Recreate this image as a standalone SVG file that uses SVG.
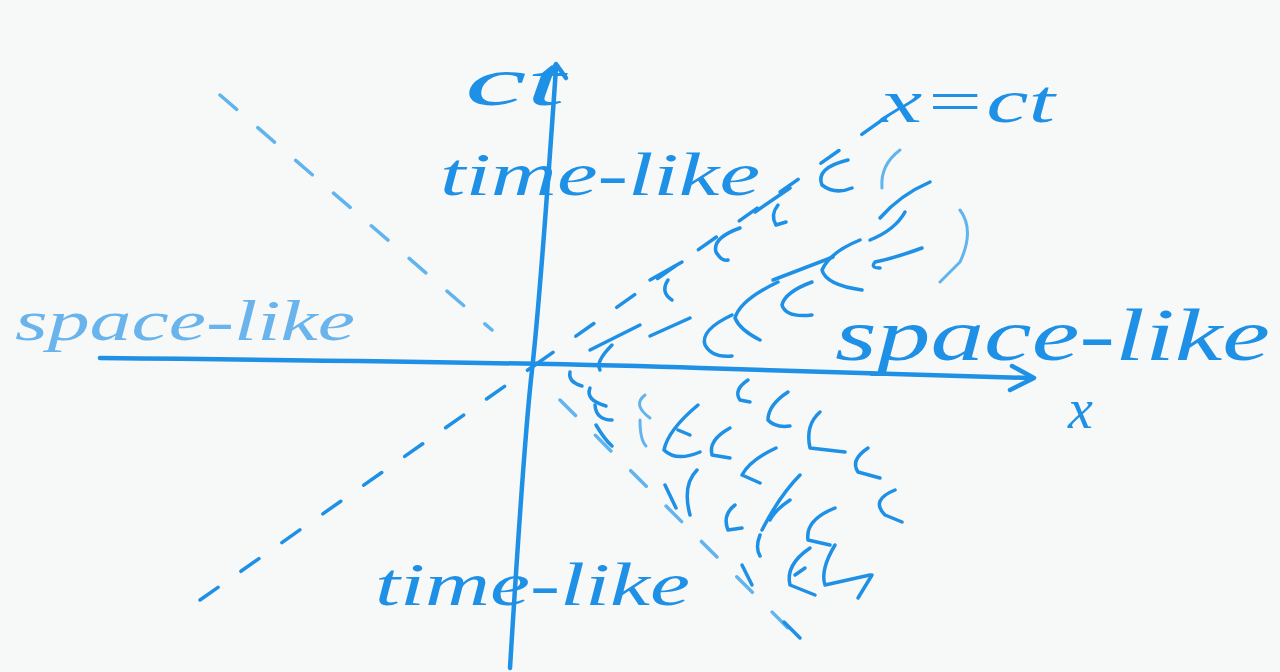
<svg xmlns="http://www.w3.org/2000/svg" width="1280" height="672" viewBox="0 0 1280 672">
<style>
.ink{fill:none;stroke:#1e90e6;stroke-linecap:round;stroke-linejoin:round}
.ax{stroke-width:4.5}
.h{stroke-width:3.5}
.lt{stroke:#62b4ee;stroke-width:3}
.dash{stroke-dasharray:22 28;stroke-width:3.5}
.t{fill:#1e90e6;font-family:"Liberation Serif",serif;font-style:italic}
</style>
<rect width="1280" height="672" fill="#f7f8f8"/>
<g id="axes">
<path class="ink ax" d="M100 358 Q 520 362 700 368 T 1030 378"/>
<path class="ink ax" d="M1012 366 L1034 378 L1010 390"/>
<path class="ink ax" d="M556 68 Q 540 300 532 370 T 510 668"/>
<path class="ink ax" d="M545 84 L556 64 L566 78"/>
</g>
<g id="lightcone">
<path class="ink lt dash" d="M220 95 L492 330"/>
<path class="ink dash" d="M200 600 L535 365"/>
<path class="ink dash" d="M535 365 L885 118"/>
<path class="ink lt dash" d="M560 400 L800 640"/>
</g>
<g id="hatch" class="ink h">
<path d="M848 160 Q 815 168 822 185 Q 835 195 852 188"/>
<path class="lt" d="M900 150 Q 880 165 882 188"/>
<path d="M755 212 L790 188"/>
<path d="M778 205 Q 770 215 776 225 L786 222"/>
<path d="M740 228 Q 712 238 716 252 Q 722 262 728 260"/>
<path d="M930 182 Q 900 195 880 218 M905 212 Q 895 230 870 240"/>
<path class="lt" d="M960 210 Q 975 230 960 262 L940 282"/>
<path d="M922 248 Q 895 258 875 262 Q 870 268 880 268"/>
<path d="M773 280 L833 257"/>
<path d="M860 240 Q 830 252 822 270 Q 826 285 862 290"/>
<path d="M682 262 L650 280 M668 280 Q 660 292 672 300"/>
<path d="M812 282 Q 785 292 782 305 Q 786 318 812 315"/>
<path d="M778 282 Q 740 300 735 318 Q 740 330 760 340"/>
<path d="M732 315 Q 700 330 705 345 Q 712 358 732 356"/>
<path d="M690 318 L650 336"/>
<path d="M640 325 L590 350 M612 345 Q 595 362 600 370"/>
<path d="M570 372 Q 568 382 582 386"/>
<path d="M590 388 Q 585 400 606 406"/>
<path d="M595 405 Q 596 420 612 420 M596 425 Q 605 440 612 446"/>
<path class="lt" d="M645 395 Q 632 405 650 418 M640 420 Q 640 440 646 446"/>
<path d="M698 405 Q 668 430 664 450 Q 676 462 700 452 M690 435 L678 430"/>
<path d="M730 428 Q 708 440 712 455 L730 458"/>
<path d="M748 380 Q 733 390 740 400 L750 402"/>
<path d="M788 392 Q 768 405 768 420 Q 775 428 790 426"/>
<path d="M820 412 Q 805 425 810 448 L845 452"/>
<path d="M868 448 Q 850 460 858 472 L880 478"/>
<path d="M895 490 Q 870 500 885 515 L902 522"/>
<path d="M776 448 Q 750 460 742 475 L760 483"/>
<path d="M697 470 Q 682 485 690 515"/>
<path d="M735 505 Q 722 515 728 530 L742 528"/>
<path d="M800 475 Q 780 495 762 530 M790 500 Q 775 510 770 520 M760 535 Q 755 548 760 556"/>
<path d="M835 508 Q 805 520 808 540 L830 545"/>
<path d="M810 548 Q 785 565 790 585 L815 595 M795 575 L805 568"/>
<path d="M835 545 Q 820 570 825 585 L870 575"/>
<path d="M872 575 L858 598"/>
<path d="M742 565 L752 585"/>
<path d="M665 485 L676 508"/>
<path d="M784 622 L800 638"/>
</g>
<g id="labels">
<text class="t" x="465" y="105" font-size="70" textLength="100" lengthAdjust="spacingAndGlyphs">ct</text>
<text class="t" x="880" y="122" font-size="62" textLength="175" lengthAdjust="spacingAndGlyphs">x=ct</text>
<text class="t" x="440" y="195" font-size="62" textLength="320" lengthAdjust="spacingAndGlyphs">time-like</text>
<text class="t" x="375" y="605" font-size="62" textLength="315" lengthAdjust="spacingAndGlyphs">time-like</text>
<text class="t" x="835" y="360" font-size="74" textLength="435" lengthAdjust="spacingAndGlyphs">space-like</text>
<text class="t" x="15" y="340" font-size="56" textLength="340" lengthAdjust="spacingAndGlyphs" opacity="0.65">space-like</text>
<text class="t" x="1068" y="428" font-size="56">x</text>
</g>
</svg>
